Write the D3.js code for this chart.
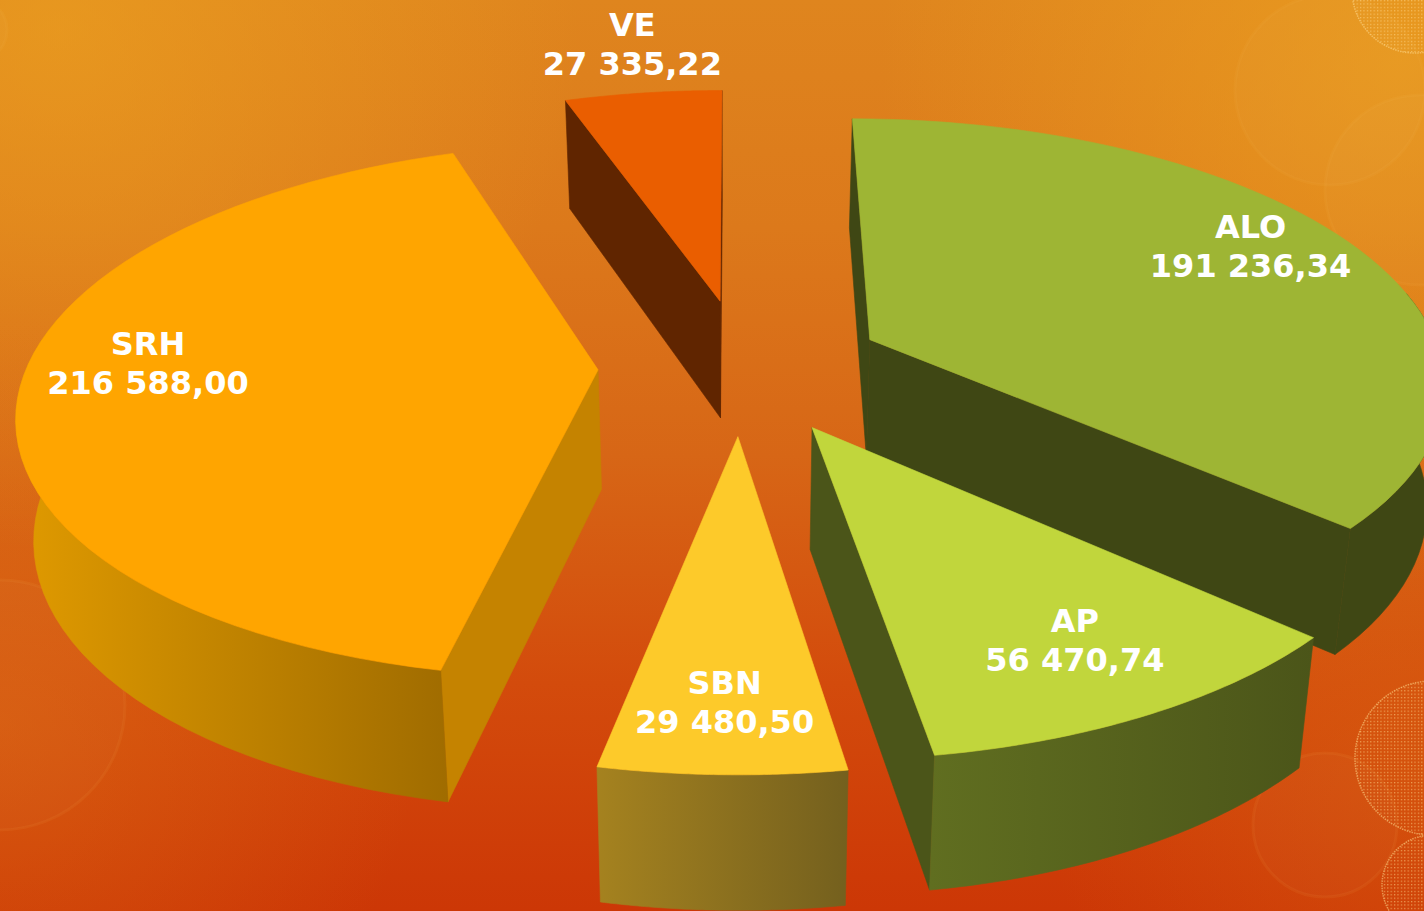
<!DOCTYPE html>
<html><head><meta charset="utf-8">
<script src="https://cdn.jsdelivr.net/npm/d3@7"></script>
<style>html,body{margin:0;padding:0;overflow:hidden;background:#d96c18}svg{display:block}</style>
</head><body><svg id="c" width="1424" height="911"></svg>
<script>
const categories = ["ALO","AP","SBN","SRH","VE"];
const values = [191236.34,56470.74,29480.50,216588.00,27335.22];
const valueLabels = ["191 236,34","56 470,74","29 480,50","216 588,00","27 335,22"];
const explode = [0.286,0.209,0.197,0.240,0.316];
const explodeTwist = [-10.4,-9.5,-2.7,14.6,4.6];
const radiusScale = [0.99,0.99,0.995,0.985,0.985];
const topColors = ["#9EB534","#C1D63C","#FDCA2A","#FFA500","#EA5E00"];
const wallColors = ["#3F4714","#4B5519","#8F7420","#C58300","#602500"];
const outerFrom = ["#3F4714","#606E20","#A5821F","#E09A00","#602500"];
const outerTo = ["#3F4714","#4B5519","#74601E","#A06C00","#602500"];
const drawOrder = ["VE","ALO","SRH","AP","SBN"];
const labelRadius = [0.62,0.62,0.75,0.75,1.1];
const labelNudge = [[74,-40],[62,35],[-2,14],[-11,-28],[-3,-36]];

const W=1424,H=911,cx=735,cy=382,R=585,D=3800,k=0.46,depth=120,shrink=0.975;
const svg=d3.select("#c"), defs=svg.append("defs");

function lin(id,x1,y1,x2,y2,stops,user){
  const g=defs.append("linearGradient").attr("id",id).attr("x1",x1).attr("y1",y1).attr("x2",x2).attr("y2",y2);
  if(user) g.attr("gradientUnits","userSpaceOnUse");
  stops.forEach(s=>g.append("stop").attr("offset",s[0]).attr("stop-color",s[1]).attr("stop-opacity",s[2]===undefined?1:s[2]));
}
function glow(id,x,y,r,color,op){
  const g=defs.append("radialGradient").attr("id",id).attr("gradientUnits","userSpaceOnUse").attr("cx",x).attr("cy",y).attr("r",r);
  g.append("stop").attr("offset",0).attr("stop-color",color).attr("stop-opacity",op);
  g.append("stop").attr("offset",1).attr("stop-color",color).attr("stop-opacity",0);
}
lin("bg",0,0,0,1,[[0,"#DF851E"],[0.25,"#DC791B"],[0.5,"#D76616"],[0.75,"#D34B0C"],[1,"#CC3706"]]);
glow("g1",60,30,520,"#EDA420",0.6);
glow("g2",1400,60,520,"#EDA420",0.65);
glow("g3",0,720,420,"#E07A16",0.4);
glow("g4",1424,780,380,"#E07A16",0.3);
const pat=defs.append("pattern").attr("id","dots").attr("width",3.4).attr("height",3.4).attr("patternUnits","userSpaceOnUse");
pat.append("rect").attr("width",1.2).attr("height",1.2).attr("fill","#FFD98A").attr("fill-opacity",0.6);

svg.append("rect").attr("width",W).attr("height",H).attr("fill","url(#bg)");
["g1","g2","g3","g4"].forEach(g=>svg.append("rect").attr("width",W).attr("height",H).attr("fill",`url(#${g})`));

const rings=[[1330,90,95],[1420,190,95],[1325,825,72],[0,705,125],[-25,30,32]];
const dotted=[[1415,-10,63],[1432,758,77],[1432,885,50]];
svg.selectAll("circle.ring").data(rings).join("circle").attr("class","ring")
  .attr("cx",d=>d[0]).attr("cy",d=>d[1]).attr("r",d=>d[2])
  .attr("fill","#fff").attr("fill-opacity",0.02).attr("stroke","#FFC060").attr("stroke-opacity",0.07).attr("stroke-width",3);
svg.selectAll("circle.dot").data(dotted).join("circle").attr("class","dot")
  .attr("cx",d=>d[0]).attr("cy",d=>d[1]).attr("r",d=>d[2])
  .attr("fill","url(#dots)").attr("stroke","#FFD98A").attr("stroke-opacity",0.55).attr("stroke-width",1.5).attr("stroke-dasharray","1.5 1");

const arcs=d3.pie().sort(null).value(d=>d)(values);

function proj(X,Y,bottom){
  const s=1/(1-Y/D);
  let x=cx+X*s, y=cy+Y*k*s;
  if(bottom){ x=cx+(x-cx)*shrink; y+=depth*Math.pow(s,0.6); }
  return [x,y];
}
function world(i,a,r){
  const m=(arcs[i].startAngle+arcs[i].endAngle)/2+explodeTwist[i]*Math.PI/180, e=explode[i]*R;
  return [e*Math.sin(m)+r*Math.sin(a), -e*Math.cos(m)-r*Math.cos(a)];
}
const line=d3.line().curve(d3.curveLinear);
const closed=p=>line(p)+"Z";
const byName=new Map(categories.map((c,i)=>[c,i]));

drawOrder.forEach(name=>{
  const i=byName.get(name), a0=arcs[i].startAngle, a1=arcs[i].endAngle, Ri=R*radiusScale[i];
  const angles=d3.range(0,61).map(t=>a0+(a1-a0)*t/60);
  const top=angles.map(a=>proj(...world(i,a,Ri),false));
  const bot=angles.map(a=>proj(...world(i,a,Ri),true));
  const apexT=proj(...world(i,a0,0),false), apexB=proj(...world(i,a0,0),true);
  const front=angles.map((a,j)=>j).filter(j=>Math.cos(angles[j])<0.2);
  const fTop=front.map(j=>top[j]), fBot=front.map(j=>bot[j]);
  const xe=d3.extent(fTop.concat(fBot).map(p=>p[0]));
  const gid="o"+i;
  lin(gid,xe[0]===undefined?0:xe[0],0,xe[1]===undefined?1:xe[1],0,[[0,outerFrom[i]],[1,outerTo[i]]],true);
  const g=svg.append("g").attr("class","slice "+name);
  const startQ=[apexT,top[0],bot[0],apexB], endQ=[apexT,top[60],bot[60],apexB];
  if(d3.polygonArea(startQ)>0) g.append("path").attr("d",closed(startQ)).attr("fill",wallColors[i]).attr("stroke",wallColors[i]).attr("stroke-width",0.6);
  if(d3.polygonArea(endQ)<0) g.append("path").attr("d",closed(endQ)).attr("fill",wallColors[i]).attr("stroke",wallColors[i]).attr("stroke-width",0.6);
  if(front.length>1) g.append("path").attr("d",closed(fTop.concat(fBot.slice().reverse()))).attr("fill","url(#"+gid+")").attr("stroke","url(#"+gid+")").attr("stroke-width",0.6);
  g.append("path").attr("d",closed([apexT].concat(top))).attr("fill",topColors[i]).attr("stroke",topColors[i]).attr("stroke-width",0.6);
});

categories.forEach((c,i)=>{
  const m=(arcs[i].startAngle+arcs[i].endAngle)/2;
  const p=proj(...world(i,m,labelRadius[i]*R),false);
  const t=svg.append("text").attr("class","lbl").attr("text-anchor","middle")
    .attr("font-family","'DejaVu Sans',sans-serif").attr("font-weight","bold").attr("font-size",32).attr("fill","#fff")
    .attr("transform",`translate(${p[0]+labelNudge[i][0]},${p[1]+labelNudge[i][1]})`);
  t.append("tspan").attr("x",0).attr("y",0).text(c);
  t.append("tspan").attr("x",0).attr("y",39).text(valueLabels[i]);
});
</script></body></html>
